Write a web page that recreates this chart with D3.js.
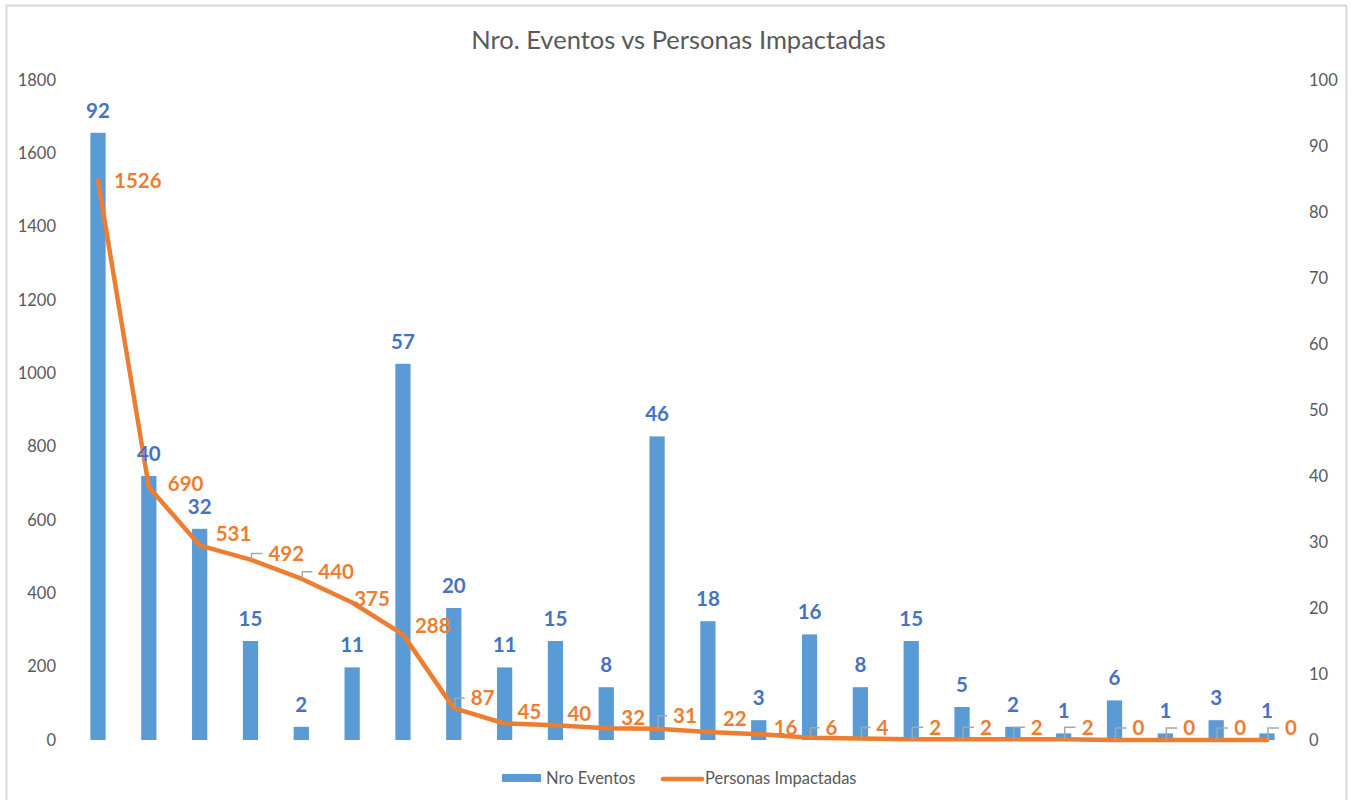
<!DOCTYPE html>
<html>
<head>
<meta charset="utf-8">
<script src="https://cdn.jsdelivr.net/npm/d3@7"></script>
<style>
  body { margin: 0; background: #fff; }
  svg text { font-family: Lato, "Open Sans", sans-serif; }
</style>
</head>
<body>
<div class="chart"></div>
<script>
var width = 1351,
    height = 800;

// data
var categories = d3.range(24).map(function(i) { return "C" + (i + 1); });
var nroEventos = [92, 40, 32, 15, 2, 11, 57, 20, 11, 15, 8, 46, 18, 3, 16, 8, 15, 5, 2, 1, 6, 1, 3, 1];
var personasImpactadas = [1526, 690, 531, 492, 440, 375, 288, 87, 45, 40, 32, 31, 22, 16, 6, 4, 2, 2, 2, 2, 0, 0, 0, 0];
var leftTicks = [0, 200, 400, 600, 800, 1000, 1200, 1400, 1600, 1800];
var rightTicks = [0, 10, 20, 30, 40, 50, 60, 70, 80, 90, 100];

// label nudges for the line labels (dx to text start, dy to text middle, leader line?)
var lineLabelNudge = [
  [16, 0, 0], [19, -3, 0], [16, -12, 0], [18, -6, 1], [17, -7, 1], [2, -4, 0],
  [12, -9, 0], [17, -10, 1], [13, -12, 0], [12, -12, 0], [15, -11, 0], [16, -13, 1],
  [15, -13, 0], [15, -7, 0], [16, -10, 1], [16, -11, 1], [18, -12, 1], [18, -12, 1],
  [18, -12, 1], [18, -12, 1], [18, -12, 1], [18, -12, 1], [18, -12, 1], [18, -12, 1]
];

var blue = "#5B9BD5", blueText = "#4472C4", orange = "#ED7D31", grey = "#595959";

var svg = d3.select(".chart").append("svg")
    .attr("width", width)
    .attr("height", height);

svg.append("rect")
    .attr("x", 6.5).attr("y", 5.5)
    .attr("width", 1340).attr("height", 820)
    .attr("fill", "#fff")
    .attr("stroke", "#d9d9d9")
    .attr("stroke-width", 2);

svg.append("text")
    .attr("x", 678.5).attr("y", 49)
    .attr("text-anchor", "middle")
    .attr("fill", grey)
    .style("font-size", "25.5px")
    .text("Nro. Eventos vs Personas Impactadas");

var x = d3.scaleBand()
    .domain(categories)
    .range([72.6, 1292.4]);

var yLeft = d3.scaleLinear().domain([0, 1800]).range([740, 80]);
var yRight = d3.scaleLinear().domain([0, 100]).range([740, 80]);

var barW = x.bandwidth() * 0.3;

// axes (no lines, only labels)
var axL = svg.append("g")
    .attr("transform", "translate(62,0)")
    .call(d3.axisLeft(yLeft).tickValues(leftTicks).tickFormat(d3.format("d")).tickSize(0).tickPadding(6));
var axR = svg.append("g")
    .attr("transform", "translate(1303,0)")
    .call(d3.axisRight(yRight).tickValues(rightTicks).tickFormat(d3.format("d")).tickSize(0).tickPadding(6));
[axL, axR].forEach(function(ax) {
  ax.select(".domain").remove();
  ax.selectAll("text").attr("fill", grey).style("font-size", "16.5px")
    .style("font-family", "Lato, sans-serif");
});

// bars on the right axis
svg.append("g")
    .selectAll("rect")
    .data(nroEventos)
    .enter().append("rect")
      .attr("x", function(d, i) { return x(categories[i]) + x.bandwidth() / 2 - barW / 2; })
      .attr("y", function(d) { return yRight(d); })
      .attr("width", barW)
      .attr("height", function(d) { return yRight(0) - yRight(d); })
      .attr("fill", blue);

// line on the left axis
var line = d3.line()
    .x(function(d, i) { return x(categories[i]) + x.bandwidth() / 2; })
    .y(function(d) { return yLeft(d); });

svg.append("path")
    .datum(personasImpactadas)
    .attr("d", line)
    .attr("fill", "none")
    .attr("stroke", orange)
    .attr("stroke-width", 4.5)
    .attr("stroke-linejoin", "round")
    .attr("stroke-linecap", "round");

// bar labels
svg.append("g")
    .selectAll("text")
    .data(nroEventos)
    .enter().append("text")
      .attr("x", function(d, i) { return x(categories[i]) + x.bandwidth() / 2; })
      .attr("y", function(d) { return yRight(d) - 15; })
      .attr("text-anchor", "middle")
      .attr("fill", blueText)
      .style("font-size", "20.5px")
      .style("font-weight", "bold")
      .text(function(d) { return d; });

// leader lines for moved line labels
var lbl = svg.append("g");
personasImpactadas.forEach(function(d, i) {
  var px = x(categories[i]) + x.bandwidth() / 2,
      py = yLeft(d),
      n = lineLabelNudge[i];
  if (n[2]) {
    lbl.append("path")
        .attr("d", "M" + (px + 1) + "," + py + "V" + (py + n[1]) + "H" + (px + n[0] - 6))
        .attr("fill", "none")
        .attr("stroke", "#a6a6a6")
        .attr("stroke-width", 1.5);
  }
  lbl.append("text")
      .attr("x", px + n[0])
      .attr("y", py + n[1])
      .attr("dy", "0.36em")
      .attr("fill", orange)
      .style("font-size", "20.5px")
      .style("font-weight", "bold")
      .text(d);
});

// legend
var leg = svg.append("g");
leg.append("rect")
    .attr("x", 502).attr("y", 774)
    .attr("width", 39).attr("height", 8)
    .attr("fill", blue);
leg.append("text")
    .attr("x", 546).attr("y", 778).attr("dy", "0.35em")
    .attr("fill", grey).style("font-size", "16.5px")
    .text("Nro Eventos");
leg.append("line")
    .attr("x1", 663).attr("x2", 702)
    .attr("y1", 779).attr("y2", 779)
    .attr("stroke", orange).attr("stroke-width", 4.5)
    .attr("stroke-linecap", "round");
leg.append("text")
    .attr("x", 705).attr("y", 778).attr("dy", "0.35em")
    .attr("fill", grey).style("font-size", "16.5px")
    .text("Personas Impactadas");
</script>
</body>
</html>
